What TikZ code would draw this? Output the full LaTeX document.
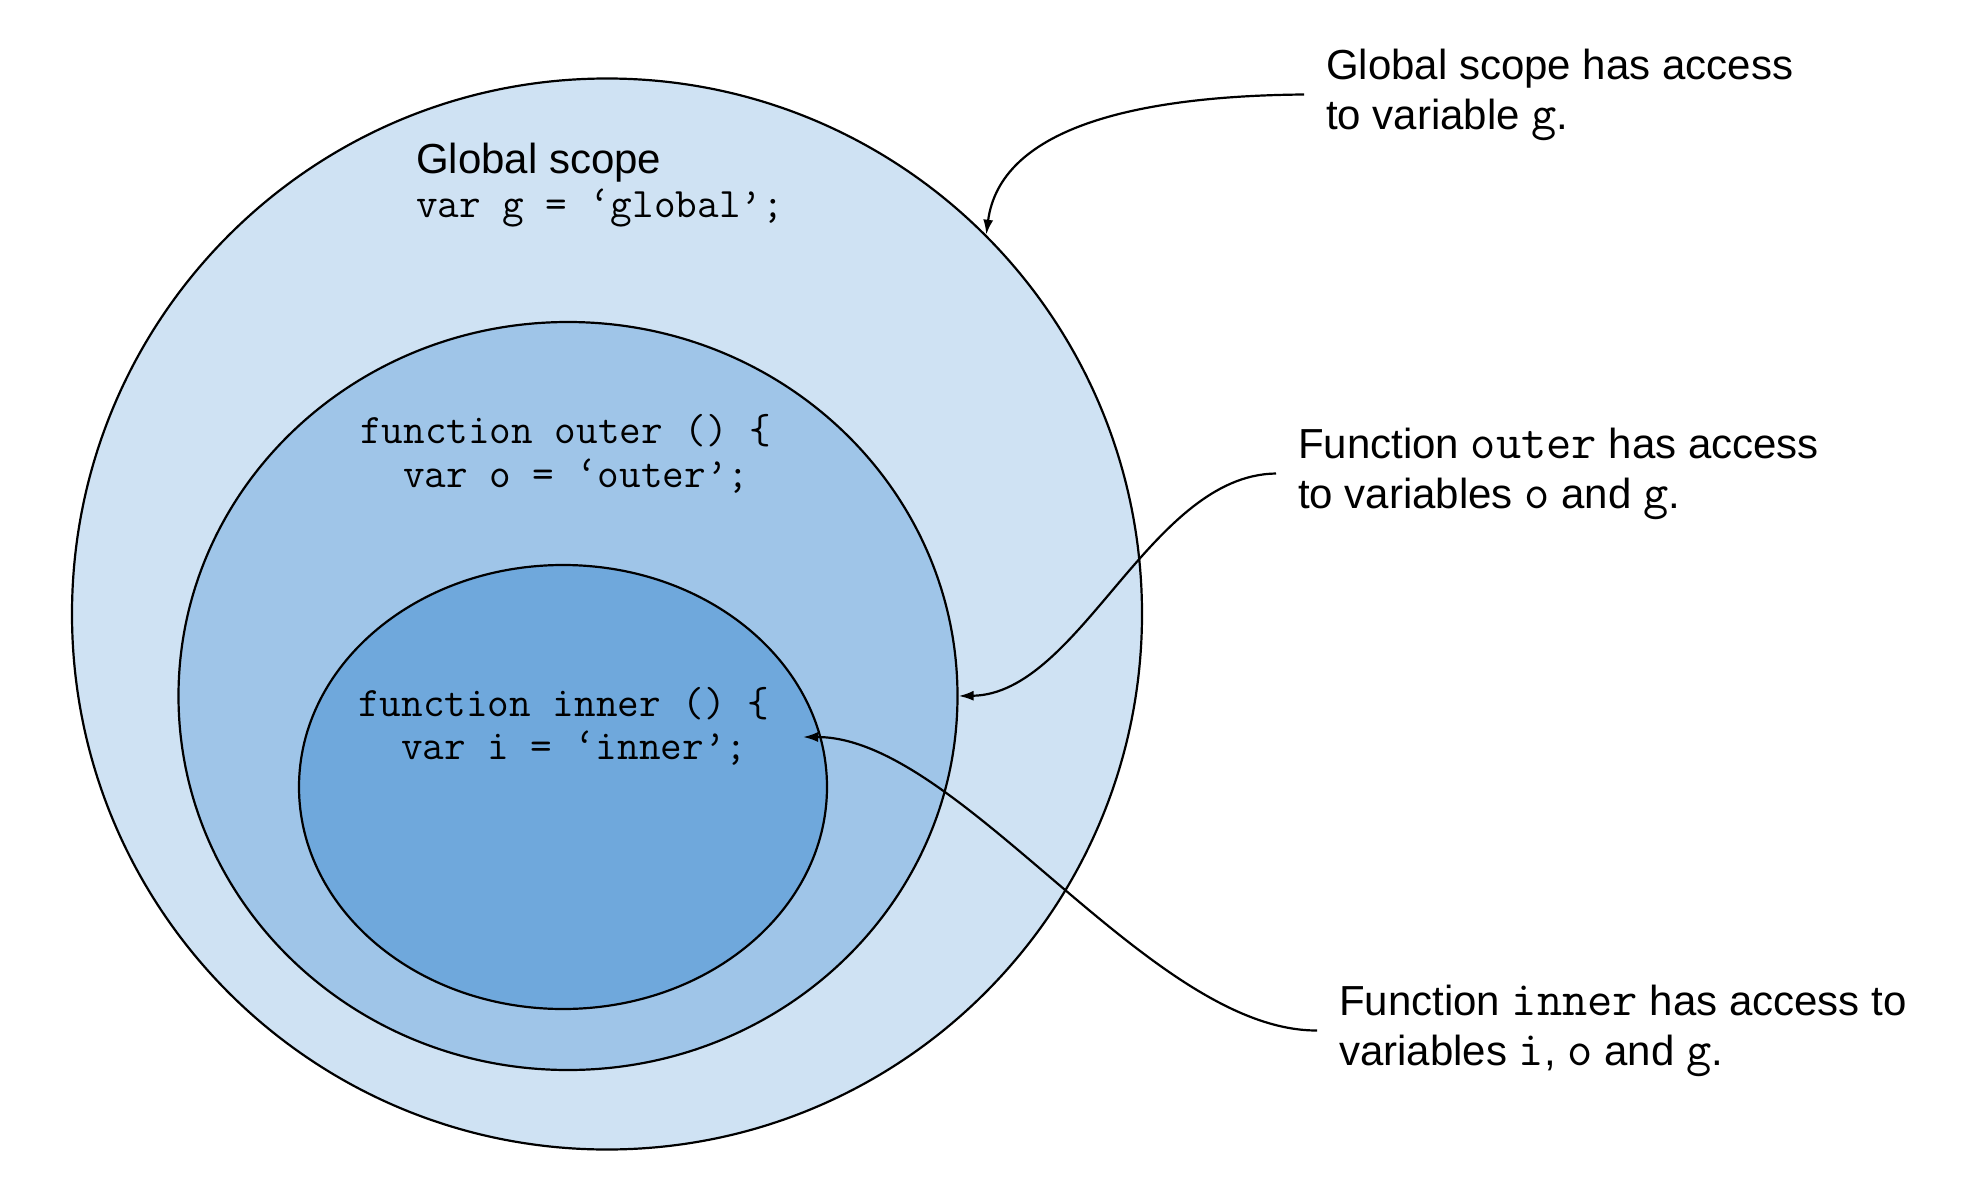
\documentclass[tikz,border=0pt]{standalone}
\usepackage{fontspec}
\setmainfont{Liberation Sans}
\usetikzlibrary{shapes.geometric,arrows.meta}
\definecolor{scopeA}{HTML}{CFE2F3}
\definecolor{scopeB}{HTML}{9FC5E8}
\definecolor{scopeC}{HTML}{6FA8DC}
\newcommand\cw[1]{{\fontsize{49}{50}\selectfont\ttfamily #1}}
\begin{document}
\begin{tikzpicture}[x=1pt,y=-1pt,
  scopering/.style={ellipse,draw=black,line width=2.2pt,inner sep=0pt},
  codeline/.style={anchor=base west,inner sep=0pt,font=\fontsize{42}{44}\selectfont\ttfamily},
  titletext/.style={anchor=base west,inner sep=0pt,font=\fontsize{42}{50}\selectfont},
  note/.style={anchor=west,align=left,inner xsep=22pt,inner ysep=0pt,font=\fontsize{42}{50}\selectfont},
  link/.style={-{Latex[length=15pt,width=10pt]},line width=2.2pt}]
\fill[white] (0,0) rectangle (1976,1204);
\useasboundingbox (0,0) rectangle (1976,1204);
% scopes
\node[scopering,fill=scopeA,minimum width=1070pt,minimum height=1071pt] (outer) at (607,614) {};
\node[scopering,fill=scopeB,minimum width=779pt,minimum height=748pt] (middle) at (568,696) {};
\node[scopering,fill=scopeC,minimum width=528pt,minimum height=444pt] (inner) at (563,787) {};
% texts inside
\node[titletext] (gtitle) at (416,173) {Global scope};
\node[codeline] (gcode) at (416,217) {var g = ‘global’;};
\node[codeline] (ocode1) at (360,443) {function outer () \{};
\node[codeline] (ocode2) at (403,487) {var o = ‘outer’;};
\node[codeline] (icode1) at (358,716) {function inner () \{};
\node[codeline] (icode2) at (401,759) {var i = ‘inner’;};
% notes
\node[note] (lab1) at (1304,94.5) {Global scope has access\\to variable \cw{g}.};
\node[note] (lab2) at (1276,473.5) {Function \cw{outer} has access\\to variables \cw{o} and \cw{g}.};
\node[note] (lab3) at (1317,1030.5) {Function \cw{inner} has access to\\variables \cw{i}, \cw{o} and \cw{g}.};
\coordinate (innertip) at (803,737);
% connectors
\draw[link] (lab1.west) .. controls (1130,96) and (1000,130) .. (outer.45);
\draw[link] (lab2.west) .. controls (1150,475) and (1080,694) .. (middle.east);
\draw[link] (lab3.west) .. controls (1150,1031) and (960,737) .. (innertip);
\end{tikzpicture}
\end{document}
